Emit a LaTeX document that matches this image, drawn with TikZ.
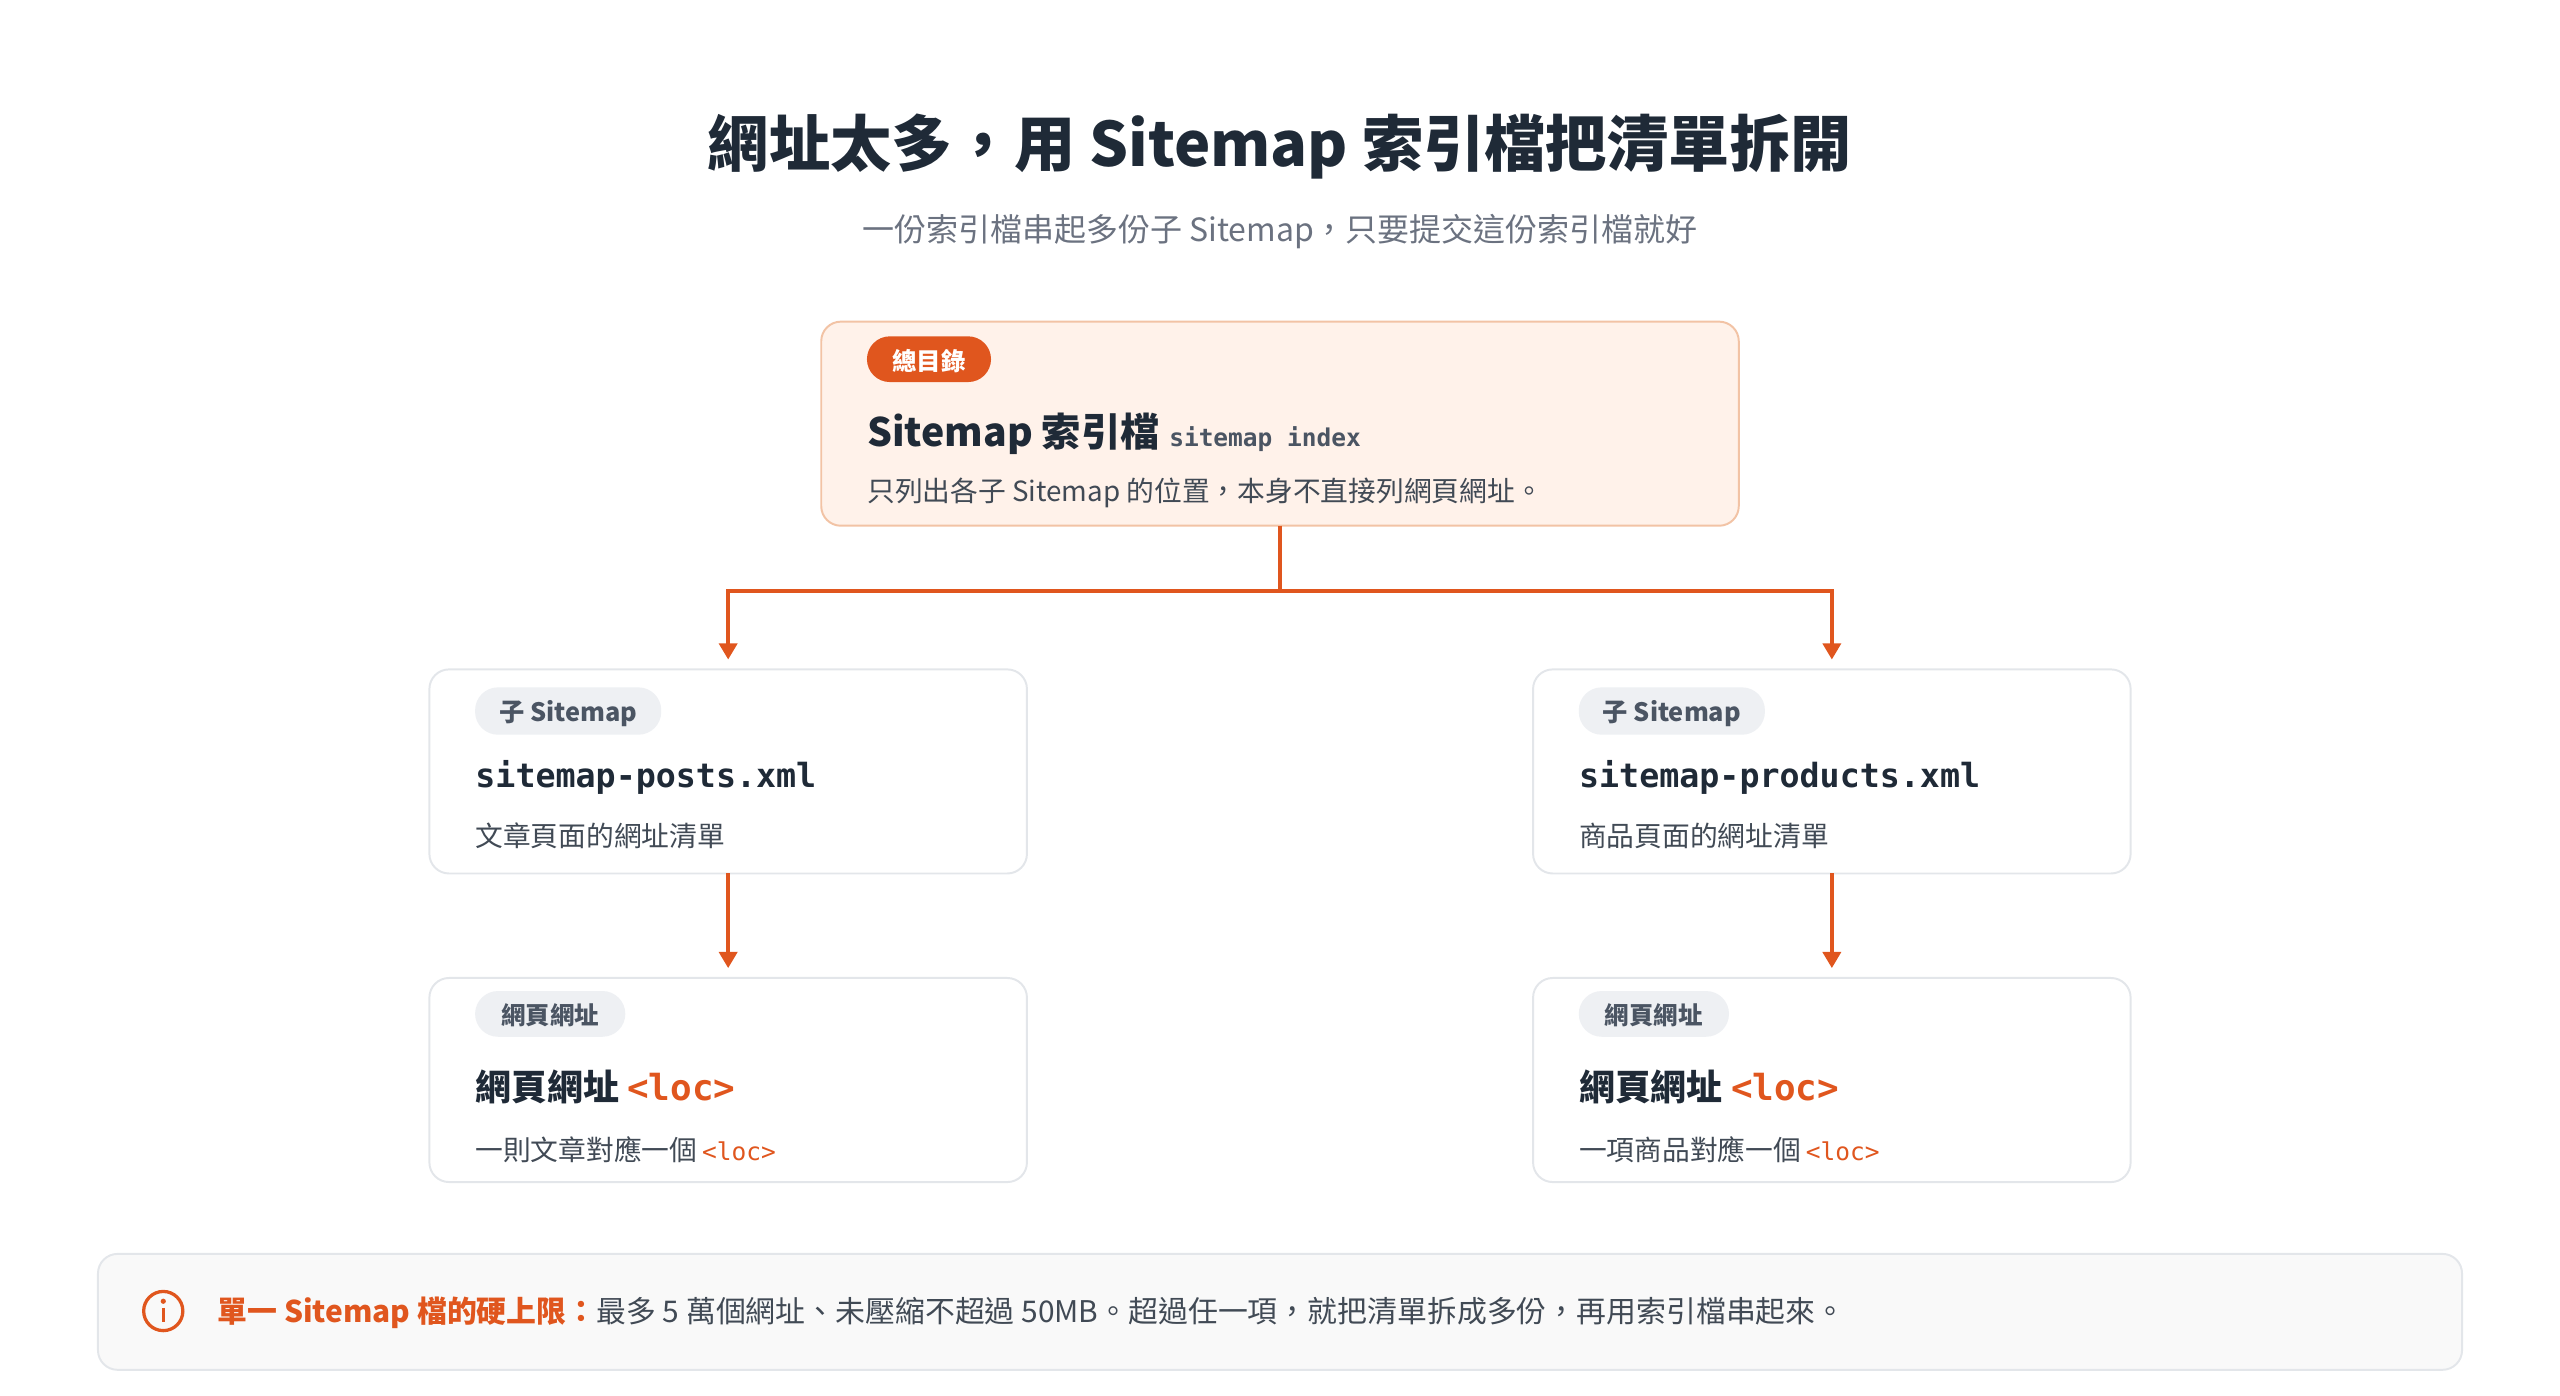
\documentclass[tikz,border=0pt]{standalone}
\usepackage{fontspec}
\setmainfont{Noto Sans CJK TC}
\setmonofont{DejaVu Sans Mono}
\usetikzlibrary{arrows.meta}
\definecolor{ink}{HTML}{1F2A37}
\definecolor{org}{HTML}{E0561E}
\definecolor{gry}{HTML}{4B5563}
\definecolor{lgry}{HTML}{6B7280}
\definecolor{pch}{HTML}{FFF2EA}
\definecolor{pchb}{HTML}{F2C3A5}
\definecolor{bdr}{HTML}{E3E6EA}
\definecolor{pill}{HTML}{EEF0F3}
\begin{document}
\begin{tikzpicture}[x=1pt,y=-1pt,
  card/.style={draw=bdr,line width=1.2pt,rounded corners=12pt,fill=white},
  badge/.style={rounded corners=14pt,inner sep=0pt},
  ar/.style={draw=org,line width=2.6pt,-{Triangle[length=10pt,width=11pt]}},
  txt/.style={anchor=west,inner sep=0pt}]
\useasboundingbox (0,0) rectangle (1568,855);
\node[inner sep=0pt] (title) at (784,90) {\fontsize{37.5}{44}\selectfont\bfseries\color{ink}網址太多，用 Sitemap 索引檔把清單拆開};
\node[inner sep=0pt] (sub) at (784,142) {\fontsize{19.6}{24}\selectfont\color{lgry}一份索引檔串起多份子 Sitemap，只要提交這份索引檔就好};
% top box
\draw[fill=pch,draw=pchb,line width=1.2pt,rounded corners=12pt] (503,197) rectangle (1065,322);
\coordinate (topb) at (784,322);
\fill[org,badge] (531,206) rectangle (607,234);
\node[inner sep=0pt] (b0) at (569,221) {\fontsize{15}{18}\selectfont\bfseries\color{white}總目錄};
\node[txt] (t0) at (531,266) {\fontsize{24}{28}\selectfont\bfseries\color{ink}Sitemap 索引檔\hspace{6pt}{\ttfamily\bfseries\fontsize{15}{18}\selectfont\color{gry}sitemap index}};
\node[txt] (d0) at (531,302) {\fontsize{17}{20}\selectfont\color{ink!85}只列出各子 Sitemap 的位置，本身不直接列網頁網址。};
% mid cards
\foreach \x/\n/\f/\d in {263/L/sitemap-posts.xml/文章頁面的網址清單, 939/R/sitemap-products.xml/商品頁面的網址清單}{
  \draw[card] (\x,410) rectangle ++(366,125);
  \fill[pill,badge] (\x+28,421) rectangle ++(114,29);
  \node[inner sep=0pt] at (\x+85,437) {\fontsize{15.5}{18}\selectfont\bfseries\color{gry}子 Sitemap};
  \node[txt] at (\x+28,476) {\ttfamily\bfseries\fontsize{20.4}{24}\selectfont\color{ink}\f};
  \node[txt] at (\x+28,512) {\fontsize{17}{20}\selectfont\color{ink!85}\d};
}
\foreach \x/\d in {263/一則文章對應一個, 939/一項商品對應一個}{
  \draw[card] (\x,599) rectangle ++(366,125);
  \fill[pill,badge] (\x+28,607) rectangle ++(92,28);
  \node[inner sep=0pt] at (\x+74,622) {\fontsize{15}{18}\selectfont\bfseries\color{gry}網頁網址};
  \node[txt] at (\x+28,666) {\fontsize{22}{26}\selectfont\bfseries\color{ink}網頁網址 {\ttfamily\color{org}<loc>}};
  \node[txt] at (\x+28,704) {\fontsize{17}{20}\selectfont\color{ink!85}\d\,{\ttfamily\fontsize{15}{18}\selectfont\color{org}<loc>}};
}
\coordinate (lt) at (446,404); \coordinate (rt) at (1122,404);
\coordinate (lb) at (446,535); \coordinate (rb) at (1122,535);
\coordinate (lt2) at (446,593); \coordinate (rt2) at (1122,593);
\draw[org,line width=2.6pt] (topb) -- (784,362);
\draw[ar] (784,362) -| (lt);
\draw[ar] (784,362) -| (rt);
\draw[ar] (lb) -- (lt2);
\draw[ar] (rb) -- (rt2);
% bottom bar
\draw[fill=gray!5,draw=bdr,line width=1.2pt,rounded corners=12pt] (60,768) rectangle (1508,839);
\draw[org,line width=2pt] (100,803) circle (12);
\fill[org] (100,797) circle (1.6);
\draw[org,line width=2pt] (100,801) -- (100,810);
\node[txt] (note) at (133,804) {\fontsize{18.3}{22}\selectfont{\bfseries\color{org}單一 Sitemap 檔的硬上限：}\color{ink!85}最多 5 萬個網址、未壓縮不超過 50MB。超過任一項，就把清單拆成多份，再用索引檔串起來。};
\end{tikzpicture}
\end{document}
